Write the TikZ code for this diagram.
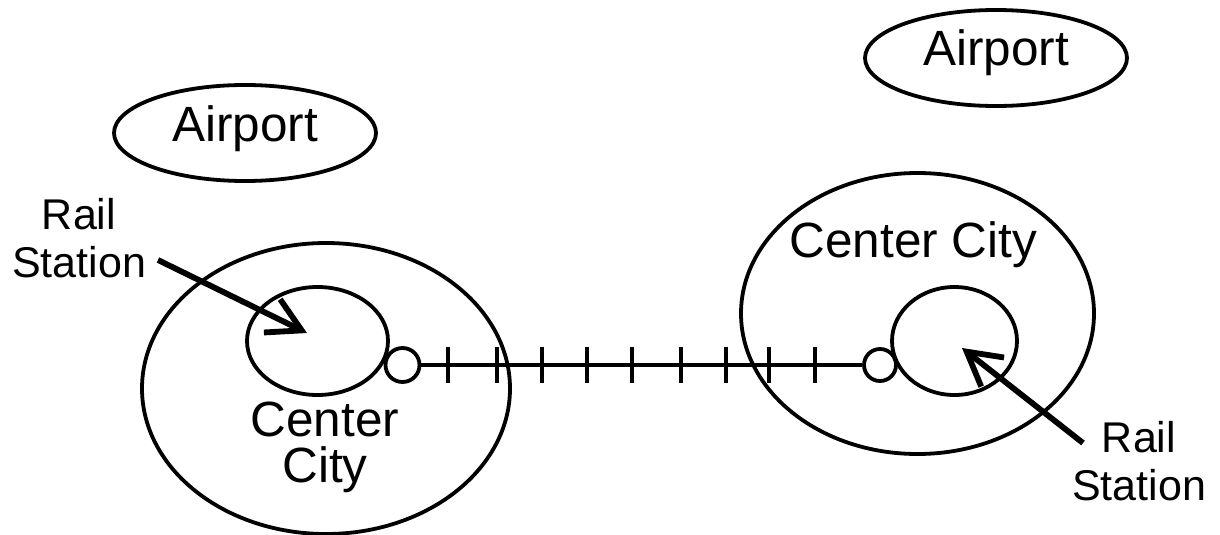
\documentclass[tikz,border=0pt]{standalone}
\usepackage{fontspec}
\setmainfont{Liberation Sans}
\usetikzlibrary{shapes.geometric,arrows.meta}
\begin{document}
\begin{tikzpicture}[x=1pt,y=-1pt,
  outline/.style={draw, ellipse, line width=3.8pt, inner sep=0pt},
  bigtext/.style={font=\fontsize{49.5}{46}\selectfont, align=center, inner sep=0pt},
  smalltext/.style={font=\fontsize{43}{48}\selectfont, align=center, inner sep=0pt},
  pointer/.style={line width=5.8pt, -{Straight Barb[length=33pt,width=37pt,sharp]}},
  station/.style={draw, circle, line width=3.8pt, minimum size=34pt, inner sep=0pt},
  track/.style={line width=3.7pt},
  tie/.style={line width=4.3pt}]
\useasboundingbox (0,0) rectangle (1220,535);

% airports
\node[outline, bigtext, minimum width=262pt, minimum height=96pt, text height=26pt, text depth=10pt] (ap1) at (245,133) {Airport};
\node[outline, bigtext, minimum width=262pt, minimum height=96pt, text height=26pt, text depth=10pt] (ap2) at (996,58) {Airport};

% city areas
\node[outline, minimum width=368pt, minimum height=291pt] (city1) at (326,388.5) {};
\node[outline, minimum width=141pt, minimum height=108pt] (core1) at (317.5,341) {};
\node[outline, minimum width=353pt, minimum height=281pt] (city2) at (917.5,313.5) {};
\node[outline, minimum width=125pt, minimum height=108pt] (core2) at (954.5,341) {};

% labels
\node[bigtext] (cc1) at (325,447) {Center\\City};
\node[bigtext, anchor=base] (cc2) at (913.5,257) {Center City};
\node[smalltext] (rs1) at (79,238) {Rail\\Station};
\node[smalltext] (rs2) at (1139,461) {Rail\\Station};

% rail line
\node[station] (s1) at (402.5,365) {};
\node[station, minimum size=32pt] (s2) at (880,365) {};
\draw[track] (s1) -- (s2);
\foreach \x in {448,497,542,587,632,681,726,769,815}
  \draw[tie] (\x,347) -- (\x,383);

% pointers
\coordinate (t1) at (158,260);
\coordinate (h1) at (307,333);
\draw[pointer] (t1) -- (h1);
\coordinate (t2) at (1083,443);
\coordinate (h2) at (962,348);
\draw[pointer] (t2) -- (h2);
\end{tikzpicture}
\end{document}
